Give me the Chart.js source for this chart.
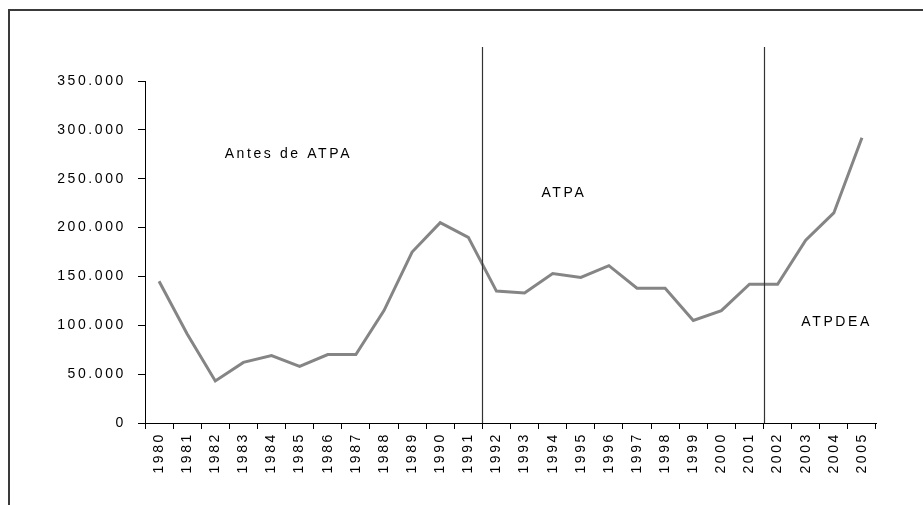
<!DOCTYPE html>
<html lang="es">
<head>
  <meta charset="UTF-8" />
  <title>Antes de ATPA / ATPA / ATPDEA</title>
  <script src="https://cdn.jsdelivr.net/npm/chart.js@4.4.0/dist/chart.umd.min.js"></script>
  <style>
    html, body { margin: 0; padding: 0; background: #fff; overflow: hidden; }
    #chart { display: block; }
  </style>
</head>
<body>
<canvas id="chart" width="923" height="505"></canvas>

<script>
  // ── data ────────────────────────────────────────────────────
  const years = ['1980','1981','1982','1983','1984','1985','1986','1987','1988','1989',
                 '1990','1991','1992','1993','1994','1995','1996','1997','1998','1999',
                 '2000','2001','2002','2003','2004','2005'];
  const values = [145000, 91000, 43000, 62000, 69000, 58000, 70000, 70000, 115000, 175000,
                  205000, 190000, 135000, 133000, 153000, 149000, 161000, 138000, 138000, 105000,
                  115000, 142000, 142000, 187000, 215000, 292000];
  const yMin = 0, yMax = 350000, yStep = 50000;

  // period dividers sit between 1991|1992 and 2001|2002 (category index units)
  const periodBreaks = [11.5, 21.5];
  const periodNames  = ['Antes de ATPA', 'ATPA', 'ATPDEA'];
  const periodNameX  = [4.6, 14.4, 24.1];        // category index
  const periodNameY  = [275000, 235000, 103000]; // value units

  const FONT = '"Liberation Sans", Arial, sans-serif';
  const SPACING = '2.6px';
  Chart.defaults.font.family = FONT;
  Chart.defaults.font.size = 14;
  Chart.defaults.color = '#000';

  const fmt = v => String(v).replace(/\B(?=(\d{3})+(?!\d))/g, '.');

  // frame, period lines and labels
  const overlay = {
    id: 'overlay',
    beforeLayout(chart) { chart.ctx.letterSpacing = SPACING; },
    beforeDraw(chart) {
      const ctx = chart.ctx;
      ctx.letterSpacing = SPACING;
      ctx.save();
      ctx.strokeStyle = '#3a3a3a';
      ctx.lineWidth = 2;
      ctx.beginPath();
      ctx.moveTo(9, chart.height);
      ctx.lineTo(9, 10);
      ctx.lineTo(chart.width, 10);
      ctx.stroke();
      ctx.restore();
    },
    afterDatasetsDraw(chart) {
      const { ctx, scales: { x, y } } = chart;
      ctx.save();
      ctx.strokeStyle = '#333';
      ctx.lineWidth = 1.2;
      periodBreaks.forEach(b => {
        const px = Math.round(x.getPixelForValue(b)) + 0.5;
        ctx.beginPath();
        ctx.moveTo(px, y.top - 34);
        ctx.lineTo(px, y.bottom);
        ctx.stroke();
      });
      ctx.fillStyle = '#000';
      ctx.font = '14px ' + FONT;
      ctx.textAlign = 'center';
      ctx.textBaseline = 'middle';
      periodNames.forEach((t, i) => {
        ctx.fillText(t, x.getPixelForValue(periodNameX[i]), y.getPixelForValue(periodNameY[i]));
      });
      ctx.restore();
    }
  };

  new Chart(document.getElementById('chart'), {
    type: 'line',
    data: {
      labels: years,
      datasets: [{
        data: values,
        borderColor: '#858585',
        borderWidth: 3,
        pointRadius: 0,
        tension: 0,
        fill: false
      }]
    },
    options: {
      responsive: false,
      animation: false,
      devicePixelRatio: 1,
      layout: { padding: { top: 81, right: 47, left: 0, bottom: 0 } },
      plugins: { legend: { display: false }, tooltip: { enabled: false } },
      scales: {
        x: {
          offset: true,
          grid: { offset: true, drawOnChartArea: false, drawTicks: true, tickLength: 6, color: '#000', lineWidth: 1 },
          border: { display: true, color: '#000', width: 1 },
          ticks: { minRotation: 90, maxRotation: 90, autoSkip: false, padding: 3 },
          afterFit: s => { s.height = 82; }
        },
        y: {
          min: yMin, max: yMax,
          grid: { drawOnChartArea: false, drawTicks: true, tickLength: 7, color: '#000', lineWidth: 1 },
          border: { display: true, color: '#000', width: 1 },
          ticks: { stepSize: yStep, padding: 12, callback: v => fmt(v) },
          afterFit: s => { s.width = 145; }
        }
      }
    },
    plugins: [overlay]
  });
</script>
</body>
</html>
